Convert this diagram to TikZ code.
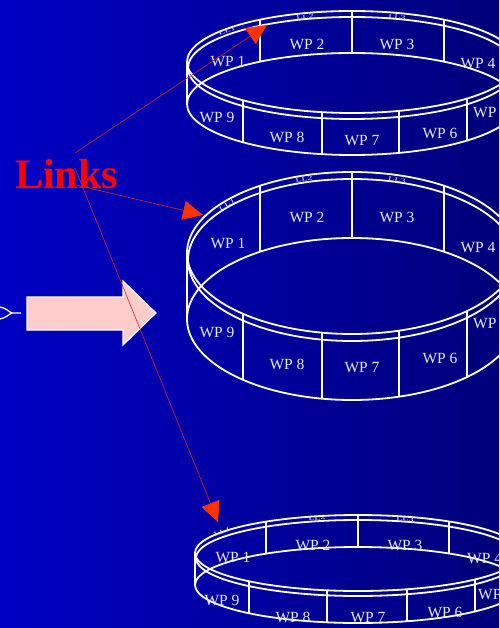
\documentclass[tikz,border=0pt]{standalone}
\usepackage{fontspec}
\setmainfont{Liberation Serif}
\usetikzlibrary{arrows.meta}
\definecolor{bgleft}{RGB}{0,0,196}
\definecolor{bgright}{RGB}{0,0,122}
\definecolor{wptext}{RGB}{232,232,240}
\definecolor{linkred}{RGB}{255,0,0}
\definecolor{pointer}{RGB}{255,51,0}
\definecolor{leadline}{RGB}{210,40,30}
\definecolor{pinkfill}{RGB}{255,204,204}

% ring: #1 cx, #2 cy, #3 a, #4 b, #5 rim gap, #6 height, #7 back dividers, #8 front dividers (angles)
\newcommand{\wpring}[8]{%
  \draw[ringline] (#1,#2) ellipse [x radius=#3pt, y radius=#4pt];
  \draw[ringline] (#1,#2+#5) ellipse [x radius=#3pt-1pt, y radius=#4pt];
  \draw[ringline] (#1,#2+#6) ellipse [x radius=#3pt, y radius=#4pt];
  \draw[ringline] (#1-#3,#2) -- ++(0,#6);
  \draw[ringline] (#1+#3,#2) -- ++(0,#6);
  \foreach \t in {#7}{\draw[ringline] ({#1+#3*cos(\t)},{#2-#4*sin(\t)}) -- ++(0,#6);}
  \foreach \t in {#8}{\draw[ringline] ({#1+#3*cos(\t)},{#2+#4*sin(\t)}) -- ++(0,#6);}
}
% flattened lettering on the rim band
\newcommand{\rimtext}[1]{\scalebox{1}[0.6]{#1}}

\begin{document}
\begin{tikzpicture}[x=1pt,y=-1pt,
  ringline/.style={draw=white,line width=1.8pt},
  wp/.style={text=wptext,font=\fontsize{15.5}{16}\selectfont,inner sep=0pt},
  ll/.style={text=wptext,font=\fontsize{10}{10}\selectfont,inner sep=0pt},
  lead/.style={draw=leadline,line width=0.6pt,-{Triangle[length=20pt,width=19pt,color=pointer]}},
  forkline/.style={draw=white,line width=1.3pt}]
\useasboundingbox (0,0) rectangle (499,628);
\shade[left color=bgleft,right color=bgright] (0,0) rectangle (499,628);
\clip (0,0) rectangle (499,628);

% three rings
\wpring{352}{62}{165}{51}{6}{42}{124,90,56}{131.4,100.5,73.4,45.8}
\wpring{352}{253}{165}{81}{7}{66}{124,90,56}{131.4,100.5,73.4,45.8}
\wpring{358}{553}{163}{38}{5}{32}{124.4,90,56}{132,101,72.5,44}

% labels, top ring
\node[wp] (r1wp1) at (228,62) {WP 1};
\node[wp] (r1wp2) at (307,44) {WP 2};
\node[wp] (r1wp3) at (397,44) {WP 3};
\node[wp] (r1wp4) at (478,64) {WP 4};
\node[wp,anchor=west] (r1wp5) at (473,113) {WP 5};
\node[wp] (r1wp6) at (440,133) {WP 6};
\node[wp] (r1wp7) at (362,141) {WP 7};
\node[wp] (r1wp8) at (287,137) {WP 8};
\node[wp] (r1wp9) at (217,117) {WP 9};
\node[ll,rotate=20] (r1ll1) at (227,31) {\rimtext{LL1}};
\node[ll,rotate=5] (r1ll2) at (305,17) {\rimtext{LL2}};
\node[ll,rotate=-5] (r1ll3) at (397,17) {\rimtext{LL3}};

% labels, middle ring
\node[wp] (r2wp1) at (228,243) {WP 1};
\node[wp] (r2wp2) at (307,217) {WP 2};
\node[wp] (r2wp3) at (397,217) {WP 3};
\node[wp] (r2wp4) at (478,248) {WP 4};
\node[wp,anchor=west] (r2wp5) at (473,324) {WP 5};
\node[wp] (r2wp6) at (440,358) {WP 6};
\node[wp] (r2wp7) at (362,368) {WP 7};
\node[wp] (r2wp8) at (287,364) {WP 8};
\node[wp] (r2wp9) at (217,332) {WP 9};
\node[ll,rotate=30] (r2ll1) at (227,205) {\rimtext{LL1}};
\node[ll,rotate=8] (r2ll2) at (304,179) {\rimtext{LL2}};
\node[ll,rotate=-8] (r2ll3) at (397,180) {\rimtext{LL3}};

% labels, bottom ring
\node[wp] (r3wp1) at (233,557) {WP 1};
\node[wp] (r3wp2) at (313,545) {WP 2};
\node[wp] (r3wp3) at (405,545) {WP 3};
\node[wp,anchor=west] (r3wp4) at (467,559) {WP 4};
\node[wp,anchor=west] (r3wp5) at (478,595) {WP 5};
\node[wp] (r3wp6) at (445,612) {WP 6};
\node[wp] (r3wp7) at (368,618) {WP 7};
\node[wp] (r3wp8) at (293,617) {WP 8};
\node[wp] (r3wp9) at (222,600) {WP 9};
\node[ll,rotate=19] (r3ll1) at (222,532) {\rimtext{LL1}};
\node[ll,rotate=3] (r3ll2) at (317,518) {\rimtext{LL2}};
\node[ll,rotate=-3] (r3ll3) at (405,519) {\rimtext{LL3}};

% forked tail at the left edge
\coordinate (forkA) at (0,307);
\coordinate (forkB) at (0,319);
\coordinate (forkJ) at (12,313);
\coordinate (forkE) at (21,313);
\draw[forkline] (forkA) .. controls (6,308) and (9,312) .. (forkJ) -- (forkE);
\draw[forkline] (forkB) .. controls (6,318) and (9,314) .. (forkJ);

% block arrow
\draw[fill=pinkfill,draw=white,line width=1.2pt]
  (27,297) -- (123,297) -- (123,281) -- (156,313) -- (123,345) -- (123,330) -- (27,330) -- cycle;

% Links label and its lead lines
\node[text=linkred,font=\bfseries\fontsize{42}{44}\selectfont,inner sep=0pt,anchor=base west]
  (links) at (15,189) {Links};
\coordinate (fromA) at (75,153);
\coordinate (fromB) at (76,185);
\coordinate (fromC) at (75,168);
\coordinate (toA) at (267,25);
\coordinate (toB) at (203,215);
\coordinate (toC) at (218,522);
\draw[lead] (fromA) -- (toA);
\draw[lead] (fromB) -- (toB);
\draw[lead] (fromC) -- (toC);
\end{tikzpicture}
\end{document}
